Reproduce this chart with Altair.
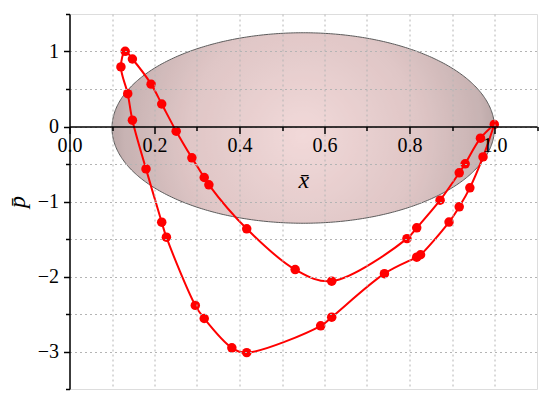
import altair as alt
import pandas as pd
import numpy as np

# closed loop of the red curve (traversal order)
curve_x = [0.9995, 0.967, 0.931, 0.917, 0.872, 0.817, 0.794, 0.617, 0.531, 0.417,
           0.328, 0.317, 0.288, 0.251, 0.217, 0.192, 0.148, 0.131, 0.121, 0.137,
           0.148, 0.180, 0.217, 0.228, 0.296, 0.317, 0.382, 0.417, 0.591, 0.617,
           0.741, 0.817, 0.826, 0.893, 0.917, 0.942, 0.973, 0.9995]
curve_y = [0.027, -0.156, -0.497, -0.618, -0.982, -1.351, -1.495, -2.062, -1.907, -1.364,
           -0.778, -0.680, -0.418, -0.062, 0.300, 0.565, 0.900, 1.003, 0.795, 0.437,
           0.084, -0.565, -1.276, -1.476, -2.385, -2.560, -2.951, -3.015, -2.658, -2.542,
           -1.962, -1.742, -1.710, -1.274, -1.071, -0.818, -0.405, 0.027]

# ellipse parameters (center, semi-axes)
ell_cx, ell_cy, ell_a, ell_b = 0.55, -0.02, 0.45, 1.27

x_ticks = [round(i * 0.1, 1) for i in range(12)]
y_ticks = [-3.5, -3, -2.5, -2, -1.5, -1, -0.5, 0, 0.5, 1, 1.5]

curve = pd.DataFrame({"x": curve_x, "y": curve_y, "order": list(range(len(curve_x)))})
marks_df = curve.iloc[:-1]

t = np.linspace(0, np.pi, 241)
ell = pd.DataFrame({
    "x": ell_cx + ell_a * np.cos(t),
    "y": ell_cy + ell_b * np.sin(t),
    "y2": ell_cy - ell_b * np.sin(t),
})

FONT = "Liberation Serif"

xscale = alt.Scale(domain=[0, 1.1], nice=False, zero=False)
yscale = alt.Scale(domain=[-3.5, 1.5], nice=False, zero=False)

xaxis = alt.Axis(
    values=x_ticks, tickCount=50, orient="bottom", offset=-262.5,
    title="x\u0304", titleFont=FONT, titleFontStyle="italic", titleFontWeight="normal",
    titleFontSize=24, titleColor="black", titleBaseline="alphabetic", titleY=61,
    labelFont=FONT, labelFontSize=20, labelColor="black", labelPadding=2,
    labelFlush=False, labelOverlap=False,
    labelExpr="round(datum.value*10) % 2 == 0 && datum.value < 1.05 ? format(datum.value, '.1f') : ''",
    domainColor="black", domainWidth=1.5, tickColor="black", tickWidth=1.5,
    tickSize={"condition": {"test": "round(datum.value*10) % 2 == 0", "value": 7}, "value": 4},
    grid=True, gridColor="#b4b4b4", gridDash=[2, 3], gridWidth=1,
    gridOpacity={"condition": {"test": "datum.value > 1.05 || datum.value < 0.05", "value": 0}, "value": 1},
    zindex=1,
)
yaxis = alt.Axis(
    values=y_ticks, tickCount=50, orient="left",
    title="p\u0304", titleFont=FONT, titleFontStyle="italic", titleFontWeight="normal",
    titleFontSize=24, titleColor="black", titlePadding=8,
    labelFont=FONT, labelFontSize=20, labelColor="black", labelPadding=5,
    labelFlush=False, labelOverlap=False,
    labelExpr="datum.value % 1 == 0 ? replace(format(datum.value, 'd'), '-', '\u2212') : ''",
    domainColor="black", domainWidth=1.5, tickColor="black", tickWidth=1.5,
    tickSize={"condition": {"test": "datum.value % 1 == 0", "value": 6}, "value": 4},
    grid=True, gridColor="#b4b4b4", gridDash=[2, 3], gridWidth=1,
    gridOpacity={"condition": {"test": "datum.value > 1.2 || datum.value < -3.2", "value": 0}, "value": 1},
    zindex=1,
)

fill = alt.RadialGradient(
    gradient="radial",
    stops=[alt.GradientStop(offset=0, color="#f0d4d4"),
           alt.GradientStop(offset=0.55, color="#dbbebe"),
           alt.GradientStop(offset=0.85, color="#c0a8a8"),
           alt.GradientStop(offset=1, color="#9e8c8c")],
    x1=0.5, y1=0.52, r1=0, x2=0.5, y2=0.52, r2=0.55,
)

ellipse = alt.Chart(ell).mark_area(
    fill=fill, opacity=0.87, stroke="#444444", strokeWidth=1
).encode(
    x=alt.X("x:Q", scale=xscale, axis=xaxis),
    y=alt.Y("y:Q", scale=yscale, axis=yaxis),
    y2="y2:Q",
)

line = alt.Chart(curve).mark_line(
    color="#ff0000", strokeWidth=2, interpolate="catmull-rom"
).encode(
    x=alt.X("x:Q", scale=xscale),
    y=alt.Y("y:Q", scale=yscale),
    order="order:Q",
)

pts = alt.Chart(marks_df).mark_point(
    filled=True, color="#ff0000", size=90, opacity=1
).encode(
    x=alt.X("x:Q", scale=xscale),
    y=alt.Y("y:Q", scale=yscale),
)

chart = alt.layer(ellipse, line, pts).properties(
    width=467.5, height=375,
    autosize=alt.AutoSizeParams(type="none"),
    padding={"left": 61.5, "top": 6, "right": 5, "bottom": 5},
).configure_view(stroke=None).configure(background="white")

chart.save("out.html", embed_options={"renderer": "svg", "actions": False})
